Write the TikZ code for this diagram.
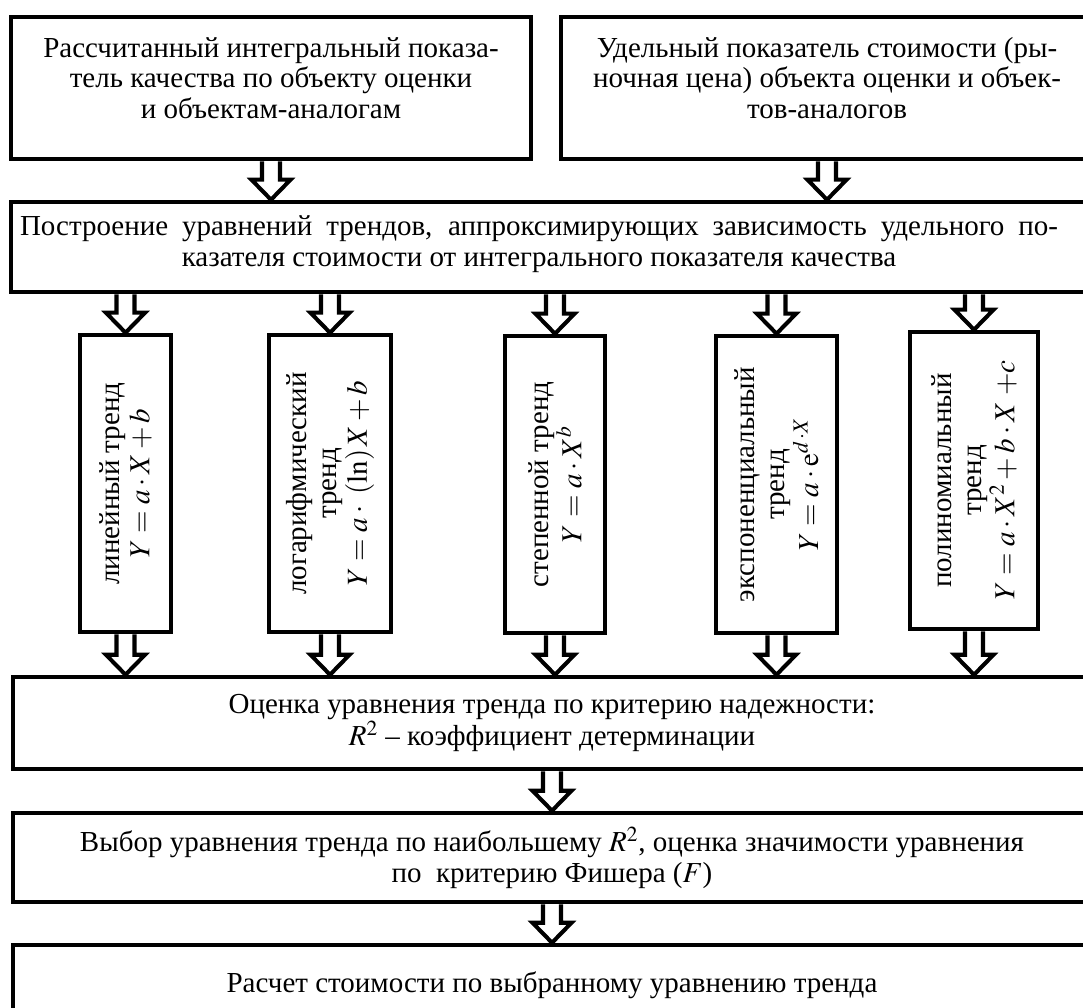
\documentclass[tikz,border=0pt]{standalone}
\usepackage{mathptmx}
\usepackage{fontspec}
\setmainfont{Liberation Serif}
\usetikzlibrary{calc}
\usetikzlibrary{positioning}

\tikzset{every picture/.style={/utils/exec={\fontsize{16.5}{17.3}\selectfont}}}
\tikzset{
  box/.style={draw, line width=2.6pt, align=center, inner sep=0pt},
  fatarrow/.style={draw, line width=2.3pt, line join=miter},
}

% hollow double-shaft arrow pointing down
\newcommand{\hollowdown}[2]{%
  \path (#1) coordinate (fa-s) (#2) coordinate (fa-t);
  \draw [fatarrow] ($(fa-s)+(-0.18,0)$) -- ($(fa-t)+(-0.18,0.4)$)
    -- ($(fa-t)+(-0.39,0.4)$) -- (fa-t) -- ($(fa-t)+(0.39,0.4)$)
    -- ($(fa-t)+(0.18,0.4)$) -- ($(fa-s)+(0.18,0)$);
}

\begin{document}
\begin{tikzpicture}
  \useasboundingbox (0,0) rectangle (21.66,-20.14);

  \node [box, minimum width=10.4cm, minimum height=2.84cm] at (5.42,-1.76) (qual) {};
  \node [align=center] at ($(qual)+(0,0.2)$) (qual-t)
    {Рассчитанный интегральный показа-\\тель качества по объекту оценки\\и объектам-аналогам};
  \node [box, minimum width=10.64cm, minimum height=2.84cm] at (16.54,-1.76) (cost) {};
  \node [align=center] at ($(cost)+(0,0.2)$) (cost-t)
    {Удельный показатель стоимости (ры-\\ночная цена) объекта оценки и объек-\\тов-аналогов};

  \node [box, minimum width=21.68cm, minimum height=1.8cm] at (11.06,-4.94) (trend) {};
  \node [align=center] at ($(trend)+(-0.28,0.06)$) (trend-t)
    {\makebox[20.76cm][s]{Построение уравнений трендов, аппроксимирующих зависимость удельного по-}\\казателя стоимости от интегрального показателя качества};

  \hollowdown{qual.south}{qual.south |- trend.north}
  \hollowdown{cost.south}{cost.south |- trend.north}

  \node [box, minimum width=21.56cm, minimum height=1.84cm] at (11.04,-14.46) (est)
    {Оценка уравнения тренда по критерию надежности:\\$R^2$ – коэффициент детерминации};

  \foreach \i/\x/\y/\w/\txt in {
    1/2.51/-9.67/1.82/{линейный тренд\\$Y = a\cdot X + b$},
    2/6.60/-9.67/2.44/{логарифмический\\тренд\\$Y = a\cdot{}\ (\ln)\,X + b$},
    3/11.10/-9.69/2.00/{степенной тренд\\$Y = a\cdot X^b$},
    4/15.53/-9.69/2.42/{экспоненциальный\\тренд\\$Y = a\cdot \mathrm{e}^{d\,\cdot X}$},
    5/19.48/-9.61/2.56/{полиномиальный\\тренд\\$Y = a\cdot X^2 + b\cdot X\;{+}c$}} {
    \node [box, minimum width=\w cm, minimum height=5.94cm] at (\x,\y) (vb\i) {};
    \node [rotate=90, align=center] at (vb\i) (vb\i-t) {\txt};
    \hollowdown{trend.south -| vb\i.north}{vb\i.north}
    \hollowdown{vb\i.south}{vb\i.south |- est.north}
  }

  \node [box, minimum width=21.56cm, minimum height=1.78cm] at (11.04,-17.15) (sel)
    {Выбор уравнения тренда по наибольшему $R^2$, оценка значимости уравнения\\по\ \ критерию Фишера ($F$)};
  \node [box, minimum width=21.56cm, minimum height=1.6cm] at (11.04,-19.70) (price)
    {Расчет стоимости по выбранному уравнению тренда};

  \hollowdown{est.south}{est.south |- sel.north}
  \hollowdown{sel.south}{sel.south |- price.north}

\end{tikzpicture}
\end{document}
